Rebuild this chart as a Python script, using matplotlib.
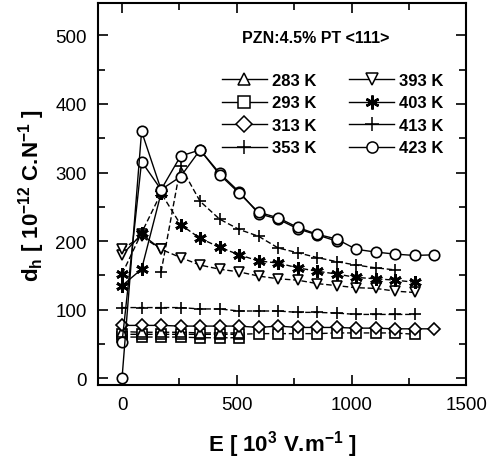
import matplotlib.pyplot as plt
from matplotlib.lines import Line2D
from matplotlib.ticker import MultipleLocator

plt.rcParams['font.family'] = ['Liberation Sans', 'DejaVu Sans']
plt.rcParams['mathtext.fontset'] = 'custom'
plt.rcParams['mathtext.bf'] = 'Liberation Sans:bold'
plt.rcParams['mathtext.rm'] = 'Liberation Sans:bold'
plt.rcParams['mathtext.default'] = 'bf'

# field values [10^3 V/m]
E = [0, 85, 170, 255, 340, 425, 510, 595, 680, 765, 850, 935, 1020, 1105, 1190, 1275, 1360]

d_283 = [68, 67, 67, 67, 66, 66, 66]
d_293 = [64, 64, 64, 64, 64, 64, 64, 65, 65, 65, 65, 66, 66, 66, 66, 64]
d_293b = [60, 60, 60, 60, 59, 59, 59]
d_313 = [77, 77, 77, 76, 76, 76, 76, 74, 76, 74, 74, 74, 73, 73, 72, 72, 72]
d_353 = [103, 103, 103, 103, 101, 101, 98, 98, 98, 96, 96, 95, 93, 93, 93, 93]
d_393 = [188, 207, 188, 176, 165, 159, 155, 149, 145, 143, 138, 135, 132, 131, 127, 125]
d_393b = [180, 210, 188]
d_403 = [152, 212, 270, 224, 204, 191, 180, 171, 168, 161, 156, 152, 147, 145, 143, 140]
d_403b = [135, 159, 270]
E_413 = [170, 255, 340, 425, 510, 595, 680, 765, 850, 935, 1020, 1105, 1190]
d_413 = [155, 309, 258, 232, 217, 207, 190, 183, 176, 170, 165, 161, 158]
d_423 = [1, 360, 275, 324, 333, 297, 270, 242, 234, 220, 210, 203, 188, 184, 181, 179, 180]
d_423b = [53, 316, 275, 294, 333, 299, 272, 240, 232, 218, 209, 200]

labels = ['283 K', '293 K', '313 K', '353 K', '393 K', '403 K', '413 K', '423 K']
markers = ['^', 's', 'D', '+', 'v', (6, 2, 0), '+', 'o']

fig = plt.figure(figsize=(4.89, 4.64), dpi=100)
ax = fig.add_axes([0.2004, 0.168, 0.753, 0.823])

mk = dict(color='black', mfc='white', mec='black', lw=1.0, ms=7.5, mew=1.2)

ax.plot(E[:len(d_293b)], d_293b, marker='s', dashes=(4, 2), **mk)
ax.plot(E[:len(d_293)], d_293, marker='s', dashes=(4, 2), **mk)
ax.plot(E[:len(d_283)], d_283, marker='^', dashes=(4, 2), **mk)
ax.plot(E[:len(d_313)], d_313, marker='D', **dict(mk, ms=6.5))
ax.plot(E[:len(d_353)], d_353, marker='+', dashes=(4, 2), **dict(mk, ms=9))
ax.plot(E[:len(d_393b)], d_393b, marker='v', **mk)
ax.plot(E[:len(d_393)], d_393, marker='v', dashes=(4, 2), **mk)
ax.plot(E[:len(d_403b)], d_403b, marker=(6, 2, 0), **dict(mk, ms=9, mew=2))
ax.plot(E[:len(d_403)], d_403, marker=(6, 2, 0), dashes=(4, 2), **dict(mk, ms=9, mew=2))
ax.plot(E_413, d_413, marker='+', dashes=(4, 2), **dict(mk, ms=9))
ax.plot(E[:len(d_423b)], d_423b, marker='o', **mk)
ax.plot(E[:len(d_423)], d_423, marker='o', **mk)

handles = []
for lab, m in zip(labels, markers):
    ms = 10 if m in ('+', (6, 2, 0)) else 8
    handles.append(Line2D([], [], color='black', lw=1.0, marker=m, ms=ms,
                          mfc='white', mec='black', mew=1.8 if m == (6, 2, 0) else 1.1))
ax.legend(handles, labels, ncol=2, frameon=False, loc='upper left',
          bbox_to_anchor=(0.318, 0.835), handlelength=2.7, handletextpad=0.3,
          columnspacing=2.0, labelspacing=0.45, borderaxespad=0.0,
          prop={'weight': 'bold', 'size': 12})

ax.text(0.592, 0.911, 'PZN:4.5% PT <111>', transform=ax.transAxes, ha='center',
        va='center', fontsize=11.5, fontweight='bold')

ax.set_xlim(-105, 1500)
ax.set_ylim(-10, 547)
ax.xaxis.set_major_locator(MultipleLocator(500))
ax.xaxis.set_minor_locator(MultipleLocator(250))
ax.yaxis.set_major_locator(MultipleLocator(100))
ax.yaxis.set_minor_locator(MultipleLocator(50))
ax.tick_params(which='both', direction='in', top=True, right=True, width=1.2,
               labelsize=13.5, pad=8)
ax.tick_params(which='major', length=7)
ax.tick_params(which='minor', length=5)
for s in ax.spines.values():
    s.set_linewidth(1.5)

ax.set_xlabel(r'E [ 10$^{3}$ V.m$^{-1}$ ]', fontsize=16, fontweight='bold', labelpad=11)
ax.set_ylabel(r'd$_{h}$ [ 10$^{-12}$ C.N$^{-1}$ ]', fontsize=16,
              fontweight='bold', labelpad=6)

fig.savefig('out.png', dpi=100)
